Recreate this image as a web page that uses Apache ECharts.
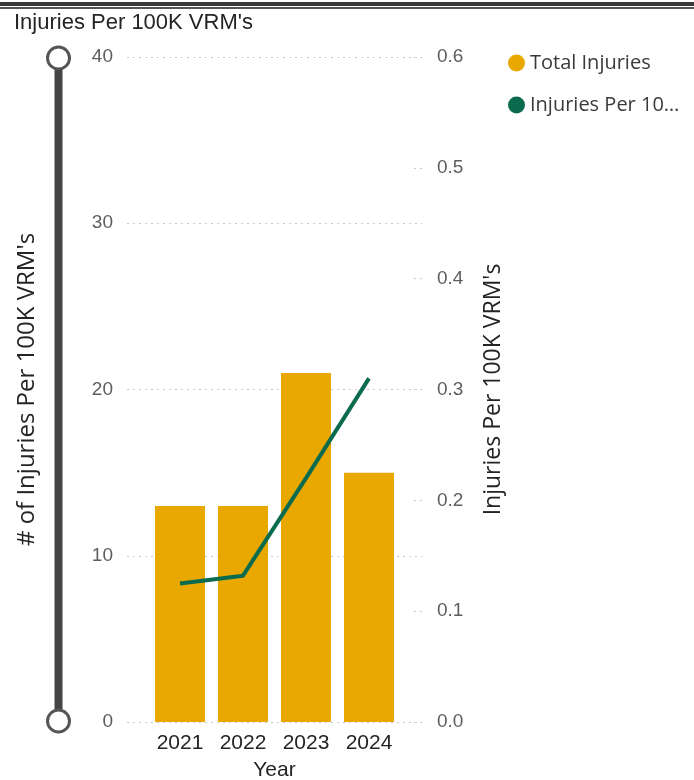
<!DOCTYPE html>
<html>
<head>
<meta charset="utf-8">
<script src="https://cdn.jsdelivr.net/npm/echarts@6/dist/echarts.min.js"></script>
<style>
  html, body { margin: 0; padding: 0; background: #fff; }
  #chart { width: 694px; height: 780px; }
</style>
</head>
<body>
<div id="chart"></div>
<script>
const years = ["2021", "2022", "2023", "2024"];
const totalInjuries = [13, 13, 21, 15];
const injuriesPer100k = [0.125, 0.132, 0.22, 0.31];
const leftTicks = { min: 0, max: 40, interval: 10 };
const rightTicks = { min: 0, max: 0.6, interval: 0.1 };

const font = "Liberation Sans, Arial, sans-serif";
const wideFont = "Open Sans, Liberation Sans, sans-serif";
const chartDom = document.getElementById("chart");
const chart = echarts.init(chartDom);

const option = {
  animation: false,
  textStyle: { fontFamily: font },
  title: {
    text: "Injuries Per 100K VRM's",
    left: 9,
    top: 7,
    textStyle: { fontSize: 22, fontWeight: "normal", color: "#252423" },
  },
  graphic: [
    { type: "rect", left: 0, top: 2, shape: { width: 694, height: 4 }, style: { fill: "#3a3a3a" } },
    { type: "rect", left: 0, top: 7, shape: { width: 694, height: 2 }, style: { fill: "#555" } },
  ],
  legend: {
    orient: "vertical",
    left: 503,
    top: 48,
    itemWidth: 17,
    itemHeight: 17,
    itemGap: 22,
    icon: "circle",
    textStyle: {
      fontFamily: wideFont,
      fontSize: 20,
      color: "#3b3a39",
      width: 162,
      overflow: "truncate",
      ellipsis: "…",
    },
    data: ["Total Injuries", "Injuries Per 100K VRM's"],
  },
  grid: [
    // wide grid carries the visible axes and gridlines
    { left: 127, right: 272, top: 57, bottom: 58, outerBoundsMode: "none" },
    // narrow grid holds the bars and line
    { left: 148.5, right: 293.5, top: 57, bottom: 58, outerBoundsMode: "none" },
  ],
  xAxis: [
    { gridIndex: 0, type: "category", data: years, show: false },
    {
      gridIndex: 1,
      type: "category",
      data: years,
      name: "Year",
      nameLocation: "middle",
      nameGap: 38,
      nameTextStyle: { fontSize: 21, color: "#252423" },
      axisLine: { show: false },
      axisTick: { show: false },
      axisLabel: { fontSize: 21, color: "#252423", margin: 11 },
    },
  ],
  yAxis: [
    {
      gridIndex: 0,
      type: "value",
      ...leftTicks,
      name: "# of Injuries Per 100K VRM's",
      nameLocation: "middle",
      nameGap: 88,
      nameTextStyle: { fontFamily: wideFont, fontSize: 24, color: "#252423" },
      axisLine: { show: false },
      axisTick: { show: false },
      axisLabel: { fontSize: 19, color: "#605e5c", margin: 14 },
      splitLine: { lineStyle: { color: "#c8c8c8", type: [2, 4], width: 1 } },
    },
    {
      gridIndex: 0,
      type: "value",
      position: "right",
      ...rightTicks,
      name: "Injuries Per 100K VRM's",
      nameLocation: "middle",
      nameRotate: 90,
      nameGap: 60,
      nameTextStyle: { fontFamily: wideFont, fontSize: 23, color: "#252423" },
      axisLine: { show: false },
      axisTick: { show: true, inside: true, length: 10, lineStyle: { color: "#c8c8c8", type: [2, 4] } },
      axisLabel: { fontSize: 19, color: "#605e5c", margin: 15, formatter: (v) => v.toFixed(1) },
      splitLine: { show: false },
    },
    { gridIndex: 1, type: "value", ...leftTicks, show: false, splitLine: { show: false } },
    { gridIndex: 1, type: "value", ...rightTicks, show: false, splitLine: { show: false } },
  ],
  dataZoom: [
    {
      type: "slider",
      yAxisIndex: 0,
      orient: "vertical",
      left: 53,
      top: 57,
      bottom: 58,
      width: 8,
      start: 0,
      end: 100,
      filterMode: "none",
      zoomLock: true,
      showDetail: false,
      showDataShadow: false,
      brushSelect: false,
      backgroundColor: "rgba(0,0,0,0)",
      borderColor: "rgba(0,0,0,0)",
      fillerColor: "#444",
      handleIcon: "circle",
      handleSize: 22,
      handleStyle: { color: "#fff", borderColor: "#555", borderWidth: 3 },
      moveHandleSize: 0,
      moveHandleStyle: { opacity: 0 },
      dataBackground: { lineStyle: { opacity: 0 }, areaStyle: { opacity: 0 } },
      selectedDataBackground: { lineStyle: { opacity: 0 }, areaStyle: { opacity: 0 } },
    },
  ],
  series: [
    {
      name: "Total Injuries",
      type: "bar",
      xAxisIndex: 1,
      yAxisIndex: 2,
      data: totalInjuries,
      barWidth: 50,
      itemStyle: { color: "#e8a800" },
    },
    {
      name: "Injuries Per 100K VRM's",
      type: "line",
      xAxisIndex: 1,
      yAxisIndex: 3,
      data: injuriesPer100k,
      showSymbol: false,
      symbol: "none",
      lineStyle: { color: "#0b6b4e", width: 4 },
      itemStyle: { color: "#0b6b4e" },
    },
  ],
};

chart.setOption(option);
window.addEventListener("resize", chart.resize);
</script>
</body>
</html>
